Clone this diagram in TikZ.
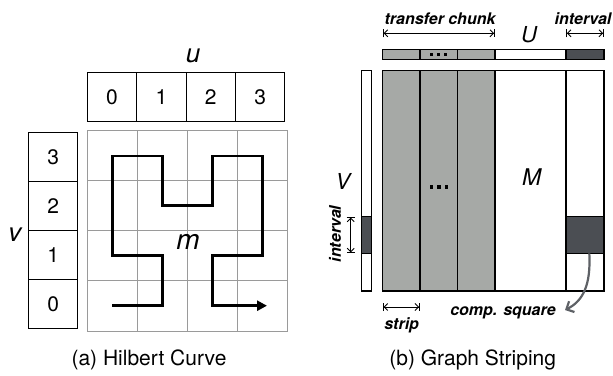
\documentclass[tikz,border=0pt]{standalone}
\usepackage{fontspec}
\setmainfont{TeX Gyre Heros}
\usetikzlibrary{arrows.meta}
\definecolor{stripgray}{HTML}{A6A9A6}
\definecolor{sqdark}{HTML}{4B4E53}
\definecolor{arrgray}{HTML}{5E6166}
\definecolor{gridgray}{HTML}{9A9A9A}
\begin{document}
\begin{tikzpicture}[x=1pt,y=-1pt,
  cell/.style={draw, line width=1.1pt, minimum width=49.4pt, minimum height=49pt, inner sep=0pt, font=\fontsize{21}{24}\selectfont},
  vcell/.style={cell, minimum width=49pt},
  lbl/.style={font=\fontsize{26}{28}\selectfont\itshape, inner sep=0pt},
  bi/.style={font=\fontsize{16}{19}\selectfont\bfseries\itshape, inner sep=0pt},
  captxt/.style={font=\fontsize{21}{25}\selectfont, inner sep=0pt},
  blk/.style={draw, line width=1.2pt, inner sep=0pt},
  dimarrow/.style={arrows={{Bar[width=8pt,line width=0.9pt]Straight Barb[length=3.5pt,width=7pt,line width=0.9pt]}-{Straight Barb[length=3.5pt,width=7pt,line width=0.9pt]Bar[width=8pt,line width=0.9pt]}}, line width=0.9pt},
  gridline/.style={draw=gridgray, line width=0.9pt},
  hilb/.style={line width=2.6pt, line join=miter, -{Triangle[length=10pt,width=10pt]}}
]
\useasboundingbox (0,0) rectangle (613,375);

% ---------- (a) Hilbert curve ----------
\node[cell] (u0) at (112.0,97.2) {0};
\node[cell] (u1) at (161.4,97.2) {1};
\node[cell] (u2) at (210.8,97.2) {2};
\node[cell] (u3) at (260.2,97.2) {3};
\node[lbl] (ulbl) at (193,56) {u};

\node[vcell] (v3) at (53.2,156.8) {3};
\node[vcell] (v2) at (53.2,205.8) {2};
\node[vcell] (v1) at (53.2,254.8) {1};
\node[vcell] (v0) at (53.2,303.8) {0};
\node[lbl] (vlbl) at (15,235) {v};

% grid
\draw[gridline] (87.3,130.7) rectangle (287.3,331);
\foreach \xx in {137.3,187.3,237.3} \draw[gridline] (\xx,130.7) -- (\xx,331);
\foreach \yy in {180.8,230.9,280.9} \draw[gridline] (87.3,\yy) -- (287.3,\yy);

% hilbert curve
\draw[hilb] (112.3,305.7) -- (162.3,305.7) -- (162.3,255.7) -- (112.3,255.7)
  -- (112.3,156) -- (162.3,156) -- (162.3,205.7) -- (212.3,205.7)
  -- (212.3,156) -- (262.3,156) -- (262.3,255.7) -- (212.3,255.7)
  -- (212.3,305.7) -- (267,305.7);
\node[lbl, font=\fontsize{28}{30}\selectfont\itshape] (mlbl) at (188,242) {m};

\node[captxt] (capa) at (149,360) {(a) Hilbert Curve};

% ---------- (b) Graph striping ----------
% top bar
\node[blk, fill=stripgray, minimum width=37.3pt, minimum height=10pt] (t1) at (401.35,54.3) {};
\node[blk, fill=stripgray, minimum width=37.7pt, minimum height=10pt] (t2) at (438.85,54.3) {};
\node[blk, fill=stripgray, minimum width=37.3pt, minimum height=10pt] (t3) at (476.35,54.3) {};
\node[blk, fill=white, minimum width=71pt, minimum height=10pt] (t4) at (530.5,54.3) {};
\node[blk, fill=sqdark, minimum width=38pt, minimum height=10pt] (t5) at (585,54.3) {};
\foreach \xx in {431.9,438.85,445.8}
  \fill (\xx-1.5,52.8) rectangle (\xx+1.5,55.8);

% matrix
\node[blk, fill=stripgray, minimum width=37.3pt, minimum height=220.3pt] (s1) at (401.35,180.85) {};
\node[blk, fill=stripgray, minimum width=37.7pt, minimum height=220.3pt] (s2) at (438.85,180.85) {};
\node[blk, fill=stripgray, minimum width=37.3pt, minimum height=220.3pt] (s3) at (476.35,180.85) {};
\node[blk, fill=white, minimum width=71pt, minimum height=220.3pt] (mw) at (530.5,180.85) {};
\node[blk, fill=white, minimum width=38pt, minimum height=220.3pt] (mc) at (585,180.85) {};
\node[blk, fill=sqdark, minimum width=38pt, minimum height=36.6pt] (sq) at (585,235) {};
\foreach \xx in {431.5,439,446.5}
  \fill (\xx-1.8,185) rectangle (\xx+1.8,188.6);

% V bar
\node[blk, fill=white, minimum width=10pt, minimum height=220.3pt] (vb) at (366.7,180.85) {};
\node[blk, fill=sqdark, minimum width=10pt, minimum height=36.6pt] (vbd) at (366.7,235) {};

% labels
\node[lbl, font=\fontsize{22}{26}\selectfont\itshape] (Ulbl) at (529,35) {U};
\node[lbl, font=\fontsize{23}{26}\selectfont\itshape] (Mlbl) at (531.7,176.7) {M};
\node[lbl, font=\fontsize{22}{26}\selectfont\itshape] (Vlbl) at (343,181.7) {V};

% dimension arrows
\coordinate (tcL) at (382.7,33.3);
\coordinate (tcR) at (495,33.3);
\coordinate (ivL) at (566,33.3);
\coordinate (ivR) at (604,33.3);
\coordinate (stL) at (382.7,307);
\coordinate (stR) at (420,307);
\coordinate (vvT) at (350.7,216.7);
\coordinate (vvB) at (350.7,253.3);
\draw[dimarrow] (tcL) -- (tcR);
\draw[dimarrow] (ivL) -- (ivR);
\draw[dimarrow] (stL) -- (stR);
\draw[dimarrow] (vvT) -- (vvB);

\node[bi] (tclbl) at (440,18.3) {transfer chunk};
\node[bi] (ivlbl) at (583,18.3) {interval};
\node[bi, rotate=90] (ivlbl2) at (335,234) {interval};
\node[bi] (stlbl) at (401.7,325) {strip};
\node[bi] (cslbl) at (503,312.7) {comp. square};

% curved arrow
\coordinate (caS) at (589.3,253.3);
\coordinate (caE) at (565,310);
\draw[arrgray, line width=2.2pt, -{Straight Barb[length=6pt,width=12pt]}]
  (caS) .. controls (591,285) and (583,301) .. (caE);

\node[captxt] (capb) at (472.7,360) {(b) Graph Striping};
\end{tikzpicture}
\end{document}
